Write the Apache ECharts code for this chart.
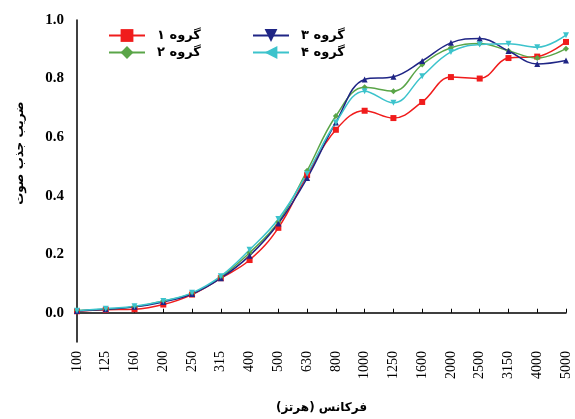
<!DOCTYPE html>
<html>
<head>
<meta charset="utf-8">
<script src="https://cdn.jsdelivr.net/npm/echarts@6/dist/echarts.min.js"></script>
<style>
  html, body { margin: 0; padding: 0; background: #fff; }
  #chart { width: 575px; height: 419px; }
</style>
</head>
<body>
<div id="chart"></div>
<script>
// فرکانس‌ها (هرتز)
const freqs = ['100', '125', '160', '200', '250', '315', '400', '500', '630', '800', '1000', '1250', '1600', '2000', '2500', '3150', '4000', '5000']
const group1 = [0.005, 0.01, 0.012, 0.028, 0.062, 0.118, 0.18, 0.29, 0.47, 0.625, 0.69, 0.665, 0.72, 0.805, 0.8, 0.87, 0.875, 0.925]
const group2 = [0.008, 0.012, 0.02, 0.04, 0.066, 0.122, 0.205, 0.31, 0.485, 0.672, 0.77, 0.757, 0.848, 0.905, 0.92, 0.895, 0.87, 0.902]
const group3 = [0.006, 0.012, 0.02, 0.037, 0.064, 0.118, 0.195, 0.305, 0.46, 0.65, 0.797, 0.806, 0.86, 0.922, 0.937, 0.894, 0.85, 0.862]
const group4 = [0.007, 0.014, 0.022, 0.04, 0.068, 0.125, 0.215, 0.32, 0.475, 0.65, 0.757, 0.717, 0.808, 0.891, 0.916, 0.919, 0.907, 0.948]
const names = ['گروه ۱', 'گروه ۲', 'گروه ۳', 'گروه ۴']

const chart = echarts.init(document.getElementById('chart'))

const legendText = {
  fontFamily: 'DejaVu Sans',
  fontWeight: 'bold',
  fontSize: 13,
  color: '#000',
  padding: [0, 0, 0, 7]
}

function lineSeries (name, data, color, symbol, rotate) {
  return {
    name: name,
    type: 'line',
    data: data,
    smooth: 0.4,
    symbol: symbol,
    symbolSize: 6,
    symbolRotate: rotate,
    lineStyle: { width: 1.5, color: color },
    itemStyle: { color: color }
  }
}

const option = {
  backgroundColor: '#fff',
  animation: false,
  grid: {
    left: 77,
    right: 9,
    top: 20,
    bottom: 76
  },
  legend: [
    {
      data: [names[0], names[1]],
      orient: 'vertical',
      left: 103,
      top: 24,
      itemWidth: 36,
      itemHeight: 16,
      itemGap: 4,
      textStyle: legendText
    },
    {
      data: [{ name: names[2], symbolRotate: 180 }, { name: names[3], symbolRotate: 90 }],
      orient: 'vertical',
      left: 247,
      top: 24,
      itemWidth: 36,
      itemHeight: 16,
      itemGap: 4,
      textStyle: legendText
    }
  ],
  graphic: [
    {
      type: 'text',
      x: 20,
      y: 153,
      rotation: Math.PI / 2,
      style: {
        text: 'ضریب جذب صوت',
        fontFamily: 'DejaVu Sans',
        fontWeight: 'bold',
        fontSize: 12,
        fill: '#000',
        align: 'center',
        verticalAlign: 'middle'
      }
    }
  ],
  xAxis: {
    type: 'category',
    data: freqs,
    boundaryGap: false,
    name: 'فرکانس (هرتز)',
    nameLocation: 'middle',
    nameGap: 60,
    nameTextStyle: {
      fontFamily: 'DejaVu Sans',
      fontWeight: 'bold',
      fontSize: 12,
      color: '#000'
    },
    axisLine: { lineStyle: { color: '#000', width: 1.5 } },
    axisTick: { inside: true, length: 4, lineStyle: { color: '#000' } },
    axisLabel: {
      rotate: 90,
      margin: 9,
      fontFamily: 'Liberation Serif',
      fontSize: 14,
      color: '#000'
    },
    splitLine: { show: false }
  },
  yAxis: {
    type: 'value',
    min: -0.1,
    max: 1.0,
    interval: 0.1,
    axisLine: { show: true, lineStyle: { color: '#000', width: 1.5 } },
    axisTick: { inside: true, length: 5, lineStyle: { color: '#000' } },
    axisLabel: {
      margin: 13,
      fontFamily: 'Liberation Serif',
      fontWeight: 'bold',
      fontSize: 15,
      color: '#000',
      formatter: function (v) {
        const k = Math.round(v * 10)
        if (k < 0 || k % 2 !== 0) return ''
        return (k / 10).toFixed(1)
      }
    },
    splitLine: { show: false }
  },
  series: [
    lineSeries(names[0], group1, '#f01c1c', 'rect', 0),
    lineSeries(names[1], group2, '#5aa548', 'diamond', 0),
    lineSeries(names[2], group3, '#1f2585', 'triangle', 0),
    lineSeries(names[3], group4, '#3cc3cc', 'triangle', 180)
  ]
}

chart.setOption(option)
</script>
</body>
</html>
